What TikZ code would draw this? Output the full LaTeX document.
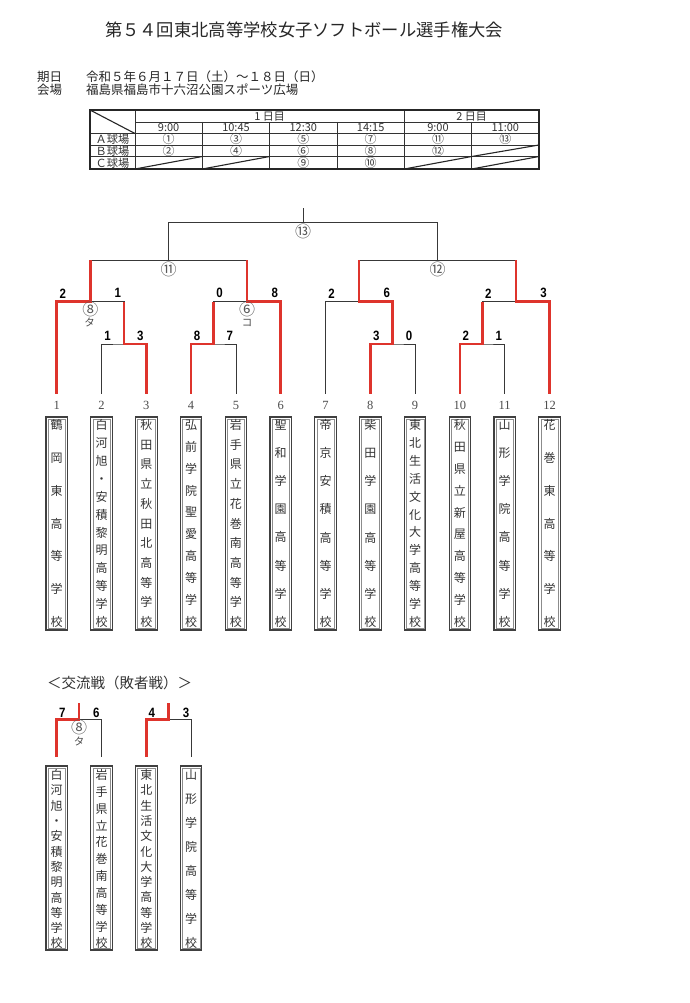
\documentclass[tikz,border=0pt]{standalone}
\usepackage{fontspec}
\setmainfont{Liberation Serif}
\newfontfamily\jp{Noto Sans CJK JP}
\newfontfamily\scorefont[FakeStretch=0.85]{Liberation Sans}
\definecolor{winred}{RGB}{222,52,44}
\begin{document}
\begin{tikzpicture}[x=1pt,y=-1pt,
  bline/.style={draw=black!78, line width=0.8pt},
  win/.style={draw=winred, line width=2.7pt, line join=miter},
  tabline/.style={draw=black!80, line width=0.7pt},
  tabouter/.style={draw=black!85, line width=1.1pt},
  info/.style={font=\jp\fontsize{12.5pt}{14pt}\selectfont, inner sep=0, text=black!85},
  tabtxt/.style={font=\jp\fontsize{11pt}{11pt}\selectfont, inner sep=0, text=black!80},
  tabcirc/.style={font=\jp\fontsize{12pt}{12pt}\selectfont, inner sep=0, text=black!75},
  rowlbl/.style={font=\jp\fontsize{11.2pt}{11pt}\selectfont, inner sep=0, text=black!80},
  score/.style={font=\scorefont\bfseries\fontsize{13.5pt}{14pt}\selectfont, inner sep=0, text=black},
  match/.style={font=\jp\fontsize{16pt}{16pt}\selectfont, inner sep=0, text=black!65},
  kana/.style={font=\jp\fontsize{10.5pt}{11pt}\selectfont, inner sep=0, text=black!70},
  teamnum/.style={font=\fontsize{12.5pt}{14pt}\selectfont, inner sep=0, text=black!70},
  teambox/.style={draw=black!75, line width=1.1pt, inner sep=0, minimum width=21.5pt},
  teaminset/.style={draw=black!45, line width=0.4pt, inner sep=0, minimum width=17.5pt},
  vname/.style={align=center, inner sep=0, text=black!80, font=\jp\fontsize{12pt}{#1pt}\selectfont}
]
\path[use as bounding box, fill=white] (0,0) rectangle (689,1003);

% ---- title and info ----
\node[font=\jp\fontsize{17.3pt}{20pt}\selectfont, text=black!85, inner sep=0] (title) at (304,30) {第５４回東北高等学校女子ソフトボール選手権大会};
\node[info, anchor=west] (dlabel) at (37,76.7) {期日};
\node[info, anchor=west] (date) at (86,76.7) {令和５年６月１７日（土）～１８日（日）};
\node[info, anchor=west] (vlabel) at (37,90) {会場};
\node[info, anchor=west] (venue) at (86,90) {福島県福島市十六沼公園スポーツ広場};

% ---- schedule table ----
\draw[tabline] (135,122) -- (539,122);
\draw[tabline] (90,133.5) -- (539,133.5);
\draw[tabline] (90,145) -- (539,145);
\draw[tabline] (90,156.5) -- (539,156.5);
\draw[tabline] (135,110) -- (135,169);
\draw[tabline] (404.3,110) -- (404.3,169);
\foreach \cx in {202.3,269.7,337,471.7} \draw[tabline] (\cx,122) -- (\cx,169);
\draw[tabouter] (90,110) -- (135,133.5);
\draw[tabouter] (135,169) -- (202.3,156.5);
\draw[tabouter] (202.3,169) -- (269.7,156.5);
\draw[tabouter] (404.3,169) -- (471.7,156.5);
\draw[tabouter] (471.7,169) -- (539,156.5);
\draw[tabouter] (471.7,156.5) -- (539,145);
\draw[tabouter] (90,110) rectangle (539,169);
\node[tabtxt] (day1) at (269.7,116.2) {1 日目};
\node[tabtxt] (day2) at (471.7,116.2) {2 日目};
\node[tabtxt] (tm1) at (168.65,127.9) {9:00};
\node[tabtxt] (tm2) at (236,127.9) {10:45};
\node[tabtxt] (tm3) at (303.35,127.9) {12:30};
\node[tabtxt] (tm4) at (370.65,127.9) {14:15};
\node[tabtxt] (tm5) at (438,127.9) {9:00};
\node[tabtxt] (tm6) at (505.35,127.9) {11:00};
\node[rowlbl] (rowA) at (112.5,139.4) {Ａ球場};
\node[rowlbl] (rowB) at (112.5,150.9) {Ｂ球場};
\node[rowlbl] (rowC) at (112.5,162.8) {Ｃ球場};
\node[tabcirc] (g1) at (168.65,139.4) {①};
\node[tabcirc] (g3) at (236,139.4) {③};
\node[tabcirc] (g5) at (303.35,139.4) {⑤};
\node[tabcirc] (g7) at (370.65,139.4) {⑦};
\node[tabcirc] (g11) at (438,139.4) {⑪};
\node[tabcirc] (g13) at (505.35,139.4) {⑬};
\node[tabcirc] (g2) at (168.65,150.9) {②};
\node[tabcirc] (g4) at (236,150.9) {④};
\node[tabcirc] (g6) at (303.35,150.9) {⑥};
\node[tabcirc] (g8) at (370.65,150.9) {⑧};
\node[tabcirc] (g12) at (438,150.9) {⑫};
\node[tabcirc] (g9) at (303.35,162.8) {⑨};
\node[tabcirc] (g10) at (370.65,162.8) {⑩};

% ---- teams ----
\foreach \i/\nm/\bs in {
  1/{鶴\\岡\\東\\高\\等\\学\\校}/32.83,
  2/{白\\河\\旭\\・\\安\\積\\黎\\明\\高\\等\\学\\校}/17.91,
  3/{秋\\田\\県\\立\\秋\\田\\北\\高\\等\\学\\校}/19.7,
  4/{弘\\前\\学\\院\\聖\\愛\\高\\等\\学\\校}/21.89,
  5/{岩\\手\\県\\立\\花\\巻\\南\\高\\等\\学\\校}/19.7,
  6/{聖\\和\\学\\園\\高\\等\\学\\校}/28.14,
  7/{帝\\京\\安\\積\\高\\等\\学\\校}/28.14,
  8/{柴\\田\\学\\園\\高\\等\\学\\校}/28.14,
  9/{東\\北\\生\\活\\文\\化\\大\\学\\高\\等\\学\\校}/17.91,
  10/{秋\\田\\県\\立\\新\\屋\\高\\等\\学\\校}/21.89,
  11/{山\\形\\学\\院\\高\\等\\学\\校}/28.14,
  12/{花\\巻\\東\\高\\等\\学\\校}/32.83}{
  \pgfmathsetmacro\xx{56.7+44.8*(\i-1)}
  \node[teamnum] (num\i) at (\xx,405) {\i};
  \node[teambox, minimum height=213pt] (box\i) at (\xx,523.5) {};
  \node[teaminset, minimum height=209pt] (inset\i) at (\xx,523.5) {};
  \node[vname=\bs] (name\i) at (\xx,523.5) {\nm};
  \coordinate (t\i) at (\xx,393.5);
}

% ---- bracket junctions ----
\coordinate (a23) at (123.9,344);
\coordinate (a45) at (213.5,344);
\coordinate (a89) at (392.7,344);
\coordinate (a1011) at (482.3,344);
\coordinate (m8) at (90.3,301.7);
\coordinate (m6) at (247.1,301.7);
\coordinate (mr1) at (359.1,301.7);
\coordinate (mr2) at (515.9,301.7);
\coordinate (s11) at (168.7,260.3);
\coordinate (s12) at (437.5,260.3);
\coordinate (f13) at (303.1,222.5);
\coordinate (top) at (303.1,208);

% thin bracket
\draw[bline] (t2) |- (a23) -| (t3);
\draw[bline] (t1) |- (m8) -| (a23);
\draw[bline] (t4) |- (a45) -| (t5);
\draw[bline] (a45) |- (m6) -| (t6);
\draw[bline] (m8) |- (s11) -| (m6);
\draw[bline] (t8) |- (a89) -| (t9);
\draw[bline] (t7) |- (mr1) -| (a89);
\draw[bline] (t10) |- (a1011) -| (t11);
\draw[bline] (a1011) |- (mr2) -| (t12);
\draw[bline] (mr1) |- (s12) -| (mr2);
\draw[bline] (s11) |- (f13) -| (s12);
\draw[bline] (f13) -- (top);

% winners
\draw[win] (t1) |- (m8) -- (m8 |- s11);
\draw[win] (t3) |- (a23) -- (a23 |- m8);
\draw[win] (t4) |- (a45) -- (a45 |- m6);
\draw[win] (t6) |- (m6) -- (m6 |- s11);
\draw[win] (t8) |- (a89) |- (mr1) -- (mr1 |- s12);
\draw[win] (t10) |- (a1011) -- (a1011 |- mr2);
\draw[win] (t12) |- (mr2) -- (mr2 |- s12);

% match labels
\node[match] (lab13) at (303.1,231) {⑬};
\node[match] (lab11) at (168.7,269.3) {⑪};
\node[match] (lab12) at (437.5,269.3) {⑫};
\node[match] (lab8) at (90.3,309) {⑧};
\node[kana] (ta) at (89.5,322.5) {タ};
\node[match] (lab6) at (247.1,309) {⑥};
\node[kana] (ko) at (247.1,322.5) {コ};

% scores
\node[score] (sc1) at (62.7,293.3) {2};
\node[score] (sc2) at (117.9,293.3) {1};
\node[score] (sc3) at (219.5,293.3) {0};
\node[score] (sc4) at (274.7,293.3) {8};
\node[score] (sc5) at (331.5,293.3) {2};
\node[score] (sc6) at (386.7,293.3) {6};
\node[score] (sc7) at (488.3,293.3) {2};
\node[score] (sc8) at (543.5,293.3) {3};
\node[score] (sc9) at (107.5,336) {1};
\node[score] (sc10) at (140.3,336) {3};
\node[score] (sc11) at (197.1,336) {8};
\node[score] (sc12) at (229.9,336) {7};
\node[score] (sc13) at (376.3,336) {3};
\node[score] (sc14) at (409.1,336) {0};
\node[score] (sc15) at (465.9,336) {2};
\node[score] (sc16) at (498.7,336) {1};

% ---- exchange games ----
\node[font=\jp\fontsize{14.5pt}{16pt}\selectfont, text=black!80, inner sep=0, anchor=west] (xtitle) at (47,682.7) {＜交流戦（敗者戦）＞};

\foreach \j/\xb/\nm/\bs in {
  1/56.7/{白\\河\\旭\\・\\安\\積\\黎\\明\\高\\等\\学\\校}/15.3,
  2/101.5/{岩\\手\\県\\立\\花\\巻\\南\\高\\等\\学\\校}/16.83,
  3/146.3/{東\\北\\生\\活\\文\\化\\大\\学\\高\\等\\学\\校}/15.3,
  4/191.1/{山\\形\\学\\院\\高\\等\\学\\校}/24.04}{
  \node[teambox, minimum height=184pt] (xbox\j) at (\xb,858) {};
  \node[teaminset, minimum height=180pt] (xinset\j) at (\xb,858) {};
  \node[vname=\bs] (xname\j) at (\xb,859.2) {\nm};
  \coordinate (u\j) at (\xb,756.7);
}
\coordinate (c1) at (79.1,719.3);
\coordinate (c1top) at (79.1,702.7);
\coordinate (c2) at (168.7,719.3);
\coordinate (c2top) at (168.7,702.7);
\draw[bline] (u1) |- (c1) -| (u2);
\draw[bline] (u3) |- (c2) -| (u4);
\draw[win] (u1) |- (c1) -- (c1top);
\draw[win] (u3) |- (c2) -- (c2top);
\node[match] (xlab8) at (79.1,727) {⑧};
\node[kana] (xta) at (79.1,741.5) {タ};
\node[score] (xs1) at (62.3,712.5) {7};
\node[score] (xs2) at (96.2,712.5) {6};
\node[score] (xs3) at (151.7,712.5) {4};
\node[score] (xs4) at (186,712.5) {3};
\end{tikzpicture}
\end{document}
